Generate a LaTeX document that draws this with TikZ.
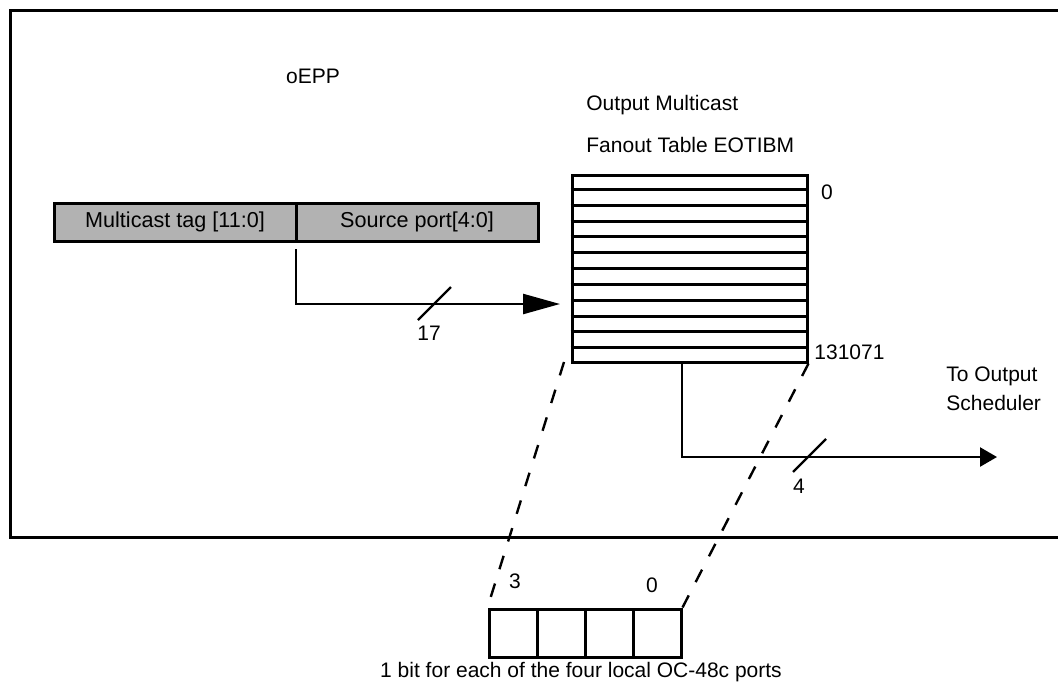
\documentclass[tikz,border=0pt]{standalone}
\usepackage{fontspec}
\setmainfont{Liberation Sans}
\usetikzlibrary{arrows.meta,positioning,calc}
\tikzset{
  frm/.style={line width=1.5pt},
  fld/.style={draw, fill=gray!60, line width=1.5pt, minimum width=121pt, outer sep=0pt,
              minimum height=19pt, inner sep=0pt, font=\fontsize{10.8}{12}\selectfont},
  tbl/.style={draw, line width=1.5pt, minimum width=117.5pt, minimum height=93.5pt, inner sep=0pt},
  cell/.style={draw, line width=1.5pt, minimum width=24pt, minimum height=24pt, inner sep=0pt},
  row/.style={line width=1.5pt},
  busarr/.style={line width=1.2pt, -{Triangle[length=18.5pt, width=10pt]}},
  outarr/.style={line width=1.2pt, -{Triangle[length=8.5pt, width=9.5pt]}},
  tick/.style={line width=1.2pt},
  map/.style={line width=1.2pt, dash pattern=on 7pt off 7.5pt},
  lbl/.style={font=\fontsize{10.5}{14.5}\selectfont, inner sep=0pt},
}
\newcommand{\buswidth}[3]{% slash through a bus, with its width
  \draw[tick] ($(#1)+(-16.5,16.5)$) -- ($(#1)+(16.5,-16.5)$);
  \node[lbl] at (#2) {#3};}

\begin{document}
\begin{tikzpicture}[x=0.5pt, y=-0.5pt]
    \useasboundingbox (0,0) rectangle (1058,687);
    % oEPP boundary
    \draw[frm] (1058,10) -| (10,537) -- (1058,537);
    \node[lbl] (epp) at (313,76) {oEPP};
    % incoming tag
    \node[fld] (tag) at (175,222) {Multicast tag [11:0]};
    \node[fld, right=0pt of tag] (src) {Source port[4:0]};
    % fanout table
    \node[tbl] (tbl) at (689.5,268.5) {};
    \foreach \k in {1,...,11}
      \draw[row] ($(tbl.north west)!\k/12!(tbl.south west)$) -- ($(tbl.north east)!\k/12!(tbl.south east)$);
    \node[lbl, anchor=west] (ttl1) at (586,105) {Output Multicast};
    \node[lbl, anchor=west] (ttl2) at (586,145) {Fanout Table EOTIBM};
    \node[lbl] (first) at (827,192) {0};
    \node[lbl, anchor=west] (last) at (814,352) {131071};
    % index into the table
    \coordinate (tin) at (560,304);
    \draw[busarr] ([yshift=-4pt]tag.south east) |- (tin);
    \buswidth{434.5,303.5}{429,333}{17}
    % to the scheduler
    \coordinate (sched) at (997,457);
    \draw[outarr] ([xshift=-3.75pt]tbl.south) |- (sched);
    \buswidth{809.5,455.5}{799,486}{4}
    \node[lbl, align=left, anchor=west] (dest) at (946,388.5) {To Output\\Scheduler};
    % one entry: a bit per port
    \foreach \i/\x in {3/513,2/561,1/609,0/657}
      \node[cell] (bit\i) at (\x,633) {};
    \node[lbl] (msb) at (515,581) {3};
    \node[lbl] (lsb) at (652,585) {0};
    \node[lbl] (cap) at (581,672) {1 bit for each of the four local OC-48c ports};
    \coordinate (tsw) at (564,362);
    \draw[map] (tsw) -- (bit3.north west);
    \draw[map] (tbl.south east) -- (bit0.north east);
  \end{tikzpicture}
\end{document}
